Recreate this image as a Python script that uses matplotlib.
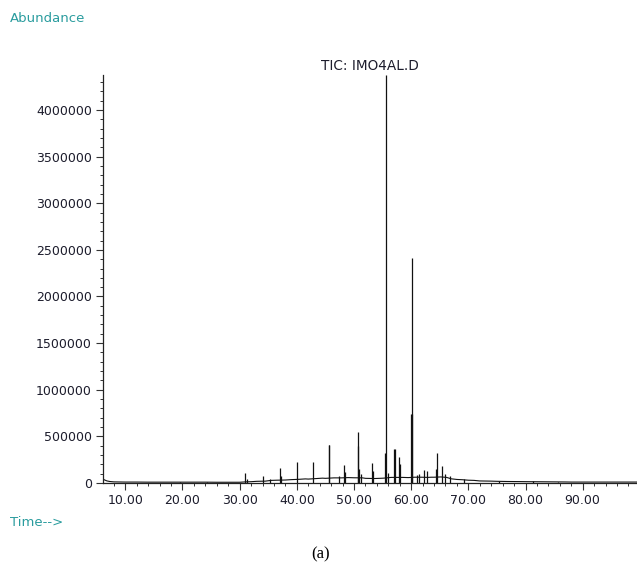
import matplotlib
matplotlib.use("Agg")
import matplotlib.pyplot as plt
from matplotlib.ticker import MultipleLocator, FixedLocator

# Baseline trace (time in minutes, abundance)
base_t = [6.1, 6.4, 6.8, 7.3, 8.0, 9.0, 10.0, 12.0, 14.0, 16.0, 18.0, 20.0, 22.0,
          24.0, 26.0, 28.0, 30.0, 31.0, 32.0, 33.0, 34.5, 35.5, 36.5,
          38.0, 39.0, 40.5, 41.5, 42.0, 43.5, 44.5, 45.0, 46.5, 47.8, 49.0, 50.0,
          51.5, 52.0, 53.6, 54.5, 55.2, 56.5, 58.5, 59.5, 60.6, 61.8, 62.9,
          63.5, 64.0, 65.2, 66.2, 67.0, 68.0, 69.0, 70.0, 71.0, 72.0,
          74.0, 75.0, 77.0, 79.0, 80.5, 83.0, 85.0, 87.0, 88.0,
          90.0, 95.0, 99.5]
base_y = [42000, 32000, 22000, 16000, 12000, 11000, 10000, 10000, 9000, 9000, 9000,
          9000, 9000, 9000, 8000, 8000, 8000, 12000, 14000, 18000, 20000,
          28000, 30000, 32000, 36000, 40000, 44000, 42000, 48000, 52000, 50000,
          55000, 55000, 58000, 56000, 55000, 50000, 48000, 50000, 52000,
          60000, 60000, 58000, 62000, 62000, 60000, 62000, 62000, 65000,
          60000, 45000, 38000, 35000, 30000, 28000, 22000, 20000, 18000,
          16000, 15000, 14000, 13000, 12000, 11000, 10000,
          10000, 10000, 10000]

# Peaks (retention time, apex abundance)
peak_t = [19.5, 24.3, 30.96, 31.25, 34.07, 35.3, 37.1, 37.3, 40.07, 42.87, 45.55, 45.65,
          47.3, 48.2, 48.4, 50.65, 50.75, 50.9, 51.2, 53.2, 53.35, 55.5, 55.62, 55.95,
          57.0, 57.1, 57.9, 58.0, 60.05, 60.14, 60.22, 61.0, 61.4, 62.3, 62.75, 64.35,
          64.5, 65.47, 65.9, 66.8, 69.2, 75.3, 81.3, 85.7]
peak_h = [13000, 13000, 105000, 40000, 80000, 38000, 160000, 70000, 220000, 220000,
          410000, 410000, 80000, 190000, 120000, 400000, 545000, 150000, 100000, 210000,
          130000, 325000, 4370000, 110000, 360000, 360000, 275000, 200000, 740000,
          2415000, 740000, 90000, 100000, 140000, 128000, 150000, 325000, 180000,
          100000, 80000, 40000, 25000, 22000, 16000]

x_ticks = [10, 20, 30, 40, 50, 60, 70, 80, 90]
x_labels = ["10.00", "20.00", "30.00", "40.00", "50.00", "60.00", "70.00", "80.00", "90.00"]
y_ticks = [0, 500000, 1000000, 1500000, 2000000, 2500000, 3000000, 3500000, 4000000]
y_labels = ["0", "500000", "1000000", "1500000", "2000000", "2500000", "3000000",
            "3500000", "4000000"]

W, H = 637, 566
fig = plt.figure(figsize=(W / 100, H / 100), dpi=100)
ax = fig.add_axes([103 / W, 1 - 483 / H, 1 - 103 / W, (483 - 75) / H])

ink = "#111111"
ax.plot(base_t, base_y, color=ink, lw=0.8, solid_joinstyle="miter")
ax.vlines(peak_t, 0, peak_h, color=ink, lw=0.9)

ax.set_xlim(6.1, 99.5)
ax.set_ylim(0, 4375000)

for s in ("top", "right"):
    ax.spines[s].set_visible(False)
for s in ("left", "bottom"):
    ax.spines[s].set_linewidth(0.9)
    ax.spines[s].set_color("#222222")

ax.xaxis.set_major_locator(FixedLocator(x_ticks))
ax.set_xticklabels(x_labels)
ax.xaxis.set_minor_locator(MultipleLocator(2))
ax.yaxis.set_major_locator(FixedLocator(y_ticks))
ax.set_yticklabels(y_labels)
ax.yaxis.set_minor_locator(MultipleLocator(100000))

tick_color = "#1c1c2c"
ax.tick_params(axis="both", which="major", direction="out", length=5, width=0.8,
               color="#333333", labelsize=9, labelcolor=tick_color, pad=3)
ax.tick_params(axis="both", which="minor", direction="out", length=2.5, width=0.7,
               color="#333333")
for lab in ax.get_xticklabels() + ax.get_yticklabels():
    lab.set_fontfamily("DejaVu Sans")

teal = "#2a9c9e"
fig.text(10 / W, 1 - 19 / H, "Abundance", color=teal, fontsize=9.5,
         family="DejaVu Sans", ha="left", va="center")
fig.text(10 / W, 1 - 522 / H, "Time-->", color=teal, fontsize=9.5,
         family="DejaVu Sans", ha="left", va="center")
fig.text(370 / W, 1 - 66 / H, "TIC: IMO4AL.D", color="#1c1c2c", fontsize=9.8,
         family="DejaVu Sans", ha="center", va="center")
fig.text(321 / W, 1 - 554 / H, "(a)", color="black", fontsize=12,
         family="Liberation Serif", ha="center", va="center")

fig.savefig("out.png", dpi=100)
